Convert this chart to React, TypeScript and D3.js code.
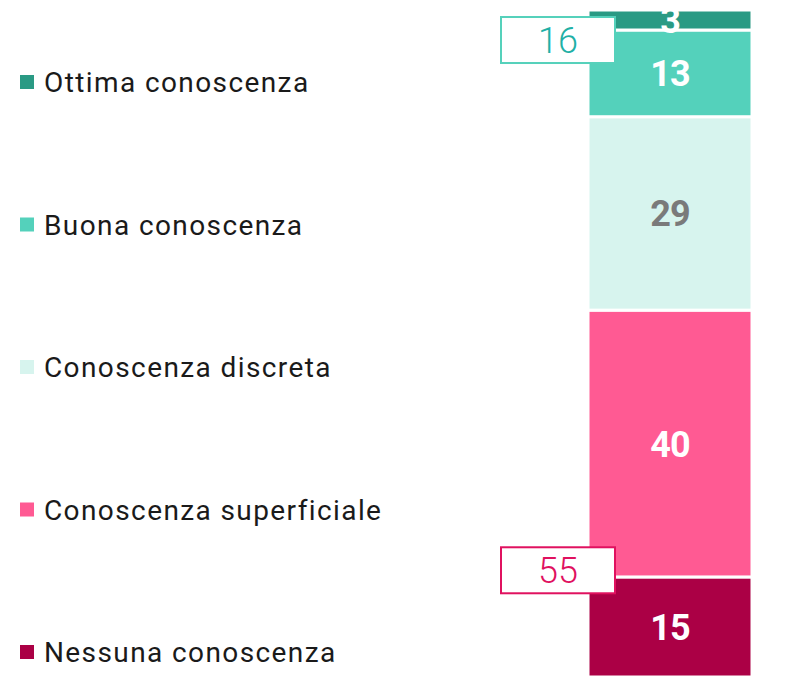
import * as d3 from "d3";
import React, { useEffect, useRef } from "react";

// data, top to bottom
const categories = [
  "Ottima conoscenza",
  "Buona conoscenza",
  "Conoscenza discreta",
  "Conoscenza superficiale",
  "Nessuna conoscenza",
];
const values = [3, 13, 29, 40, 15];
const colors = ["#2a9a84", "#54d1bb", "#d7f4ee", "#ff5a93", "#ab0045"];
const labelColors = ["#fff", "#fff", "#7a7a7a", "#fff", "#fff"];

// summary boxes: sum of the top two and of the bottom two
const totals = [
  { label: "16", color: "#1fb0a6", border: "#55d1bb", anchor: 95.5 },
  { label: "55", color: "#e0115f", border: "#e0115f", anchor: 16 },
];

const W = 787;
const H = 677;

const App = () => {
  const svgRef = useRef<SVGSVGElement>(null);

  useEffect(() => {
    const svg = d3.select(svgRef.current);
    svg.selectAll("*").remove();

    const top = 10;
    const y = d3.scaleLinear().domain([0, 100]).range([H, top]);
    const x0 = 588;
    const barW = 164;

    // stacked from bottom upward
    const stacked: { i: number; y0: number; y1: number }[] = [];
    let acc = 0;
    for (let i = values.length - 1; i >= 0; i--) {
      stacked.push({ i, y0: acc, y1: acc + values[i] });
      acc += values[i];
    }

    svg
      .append("defs")
      .append("clipPath")
      .attr("id", "plot-clip")
      .append("rect")
      .attr("x", 0)
      .attr("y", top)
      .attr("width", W)
      .attr("height", H - top);

    const g = svg.append("g").attr("clip-path", "url(#plot-clip)");

    g.selectAll("rect.seg")
      .data(stacked)
      .join("rect")
      .attr("class", "seg")
      .attr("x", x0)
      .attr("width", barW)
      .attr("y", (d) => y(d.y1))
      .attr("height", (d) => y(d.y0) - y(d.y1))
      .attr("fill", (d) => colors[d.i])
      .attr("stroke", "#fff")
      .attr("stroke-width", 3);

    g.selectAll("text.val")
      .data(stacked)
      .join("text")
      .attr("class", "val")
      .attr("x", x0 + barW / 2)
      .attr("y", (d) => (y(d.y0) + y(d.y1)) / 2)
      .attr("dy", "0.36em")
      .attr("text-anchor", "middle")
      .attr("font-family", "Roboto, sans-serif")
      .attr("font-weight", 700)
      .attr("font-size", 36)
      .attr("letter-spacing", -1)
      .attr("fill", (d) => labelColors[d.i])
      .text((d) => values[d.i]);

    // total boxes
    const boxW = 114;
    const boxH = 46;
    const tg = svg.append("g");
    totals.forEach((t) => {
      const cy = y(t.anchor);
      tg.append("rect")
        .attr("x", 501)
        .attr("y", cy - boxH / 2)
        .attr("width", boxW)
        .attr("height", boxH)
        .attr("fill", "#fff")
        .attr("stroke", t.border)
        .attr("stroke-width", 2);
      tg.append("text")
        .attr("x", 501 + boxW / 2)
        .attr("y", cy)
        .attr("dy", "0.36em")
        .attr("text-anchor", "middle")
        .attr("font-family", "Roboto, sans-serif")
        .attr("font-weight", 300)
        .attr("font-size", 36)
        .attr("fill", t.color)
        .text(t.label);
    });

    // legend
    const legend = svg.append("g");
    const ly = d3
      .scalePoint()
      .domain(categories)
      .range([82, 652]);
    categories.forEach((c, i) => {
      const cy = ly(c)!;
      legend
        .append("rect")
        .attr("x", 20)
        .attr("y", cy - 7)
        .attr("width", 14)
        .attr("height", 14)
        .attr("fill", colors[i]);
      legend
        .append("text")
        .attr("x", 44)
        .attr("y", cy)
        .attr("dy", "0.36em")
        .attr("font-family", "Roboto, sans-serif")
        .attr("font-size", 28)
        .attr("letter-spacing", 1.4)
        .attr("fill", "#1a1a1a")
        .text(c);
    });
  }, []);

  return (
    <svg
      ref={svgRef}
      width={W}
      height={H}
      style={{ position: "absolute", left: 0, top: 0 }}
    ></svg>
  );
};

export default App;
